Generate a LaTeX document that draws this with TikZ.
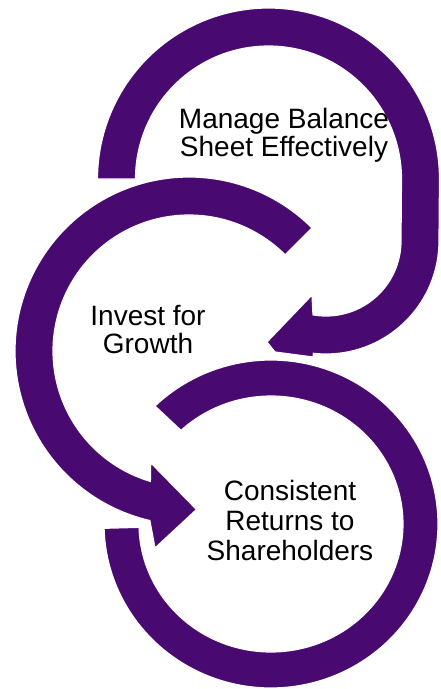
\documentclass[tikz,border=0pt]{standalone}
\usepackage{fontspec}
\newfontfamily\lblfont{Liberation Sans}
\definecolor{ringpurple}{HTML}{480A70}
\begin{document}
\begin{tikzpicture}[x=1pt,y=-1pt,
  ring/.style={fill=ringpurple, draw=white, line width=1.2pt, line join=miter},
  lbl/.style={align=center, inner sep=0pt, text=black},
  lblA/.style={lbl, font=\lblfont\fontsize{28}{28.5}\selectfont},
  lblC/.style={lbl, font=\lblfont\fontsize{28}{30}\selectfont},
]
\fill[white] (0,0) rectangle (441,689);
\useasboundingbox (0,0) rectangle (441,689);
\coordinate (cA) at (268.5,179);
\coordinate (cA2) at (326,241);
\coordinate (cB) at (189,351);
\coordinate (cC) at (271,524);
% bottom ring (no head)
\begin{scope}[shift={(cC)}]
\filldraw[ring] plot[domain=226:538.5, samples=150] ({167*cos(\x)},{164*sin(\x)})
  -- plot[domain=538.5:227, samples=150] ({132*cos(\x)},{128*sin(\x)}) -- cycle;
\end{scope}
% top ring with head
\filldraw[ring]
  plot[domain=180:360, samples=120] ({268.5+171*cos(\x)},{179+171*sin(\x)})
  -- plot[domain=0:96.4, samples=70] ({326+113*cos(\x)},{241+113*sin(\x)})
  -- (313,357) -- (275,352) -- (267,342) -- (312,295)
  -- plot[domain=100:0, samples=70] ({326+75*cos(\x)},{241+75*sin(\x)})
  -- plot[domain=360:180, samples=120] ({268.5+133*cos(\x)},{179+133*sin(\x)})
  -- cycle;
% middle ring with head
\begin{scope}[shift={(cB)}]
\filldraw[ring] plot[domain=315:103, samples=120] (\x:174)
  -- (-34,197) -- (7.5,158.5) -- (-38.3,111.7)
  -- plot[domain=106.5:315, samples=120] (\x:136) -- cycle;
\end{scope}
\node[lblA] (tA) at (284,135.4) {Manage Balance\\Sheet Effectively};
\node[lblA, font=\lblfont\fontsize{28}{28}\selectfont] (tB) at (148,329) {Invest for\\Growth};
\node[lblC] (tC) at (290,520.8) {Consistent\\Returns to\\Shareholders};
\end{tikzpicture}
\end{document}
